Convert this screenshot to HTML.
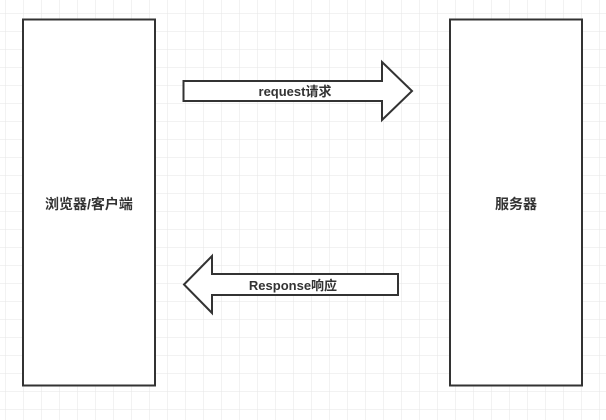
<!DOCTYPE html>
<html><head><meta charset="utf-8">
<style>
html,body{margin:0;padding:0;background:#fff;}
svg{display:block;}
text{font-family:"Liberation Sans","Noto Sans CJK SC",sans-serif;font-weight:bold;fill:#333;}
</style></head>
<body>
<svg width="606" height="420" viewBox="0 0 606 420" xmlns="http://www.w3.org/2000/svg">
<defs>
<pattern id="g" x="5" y="13" width="18" height="18" patternUnits="userSpaceOnUse">
<path d="M0 0H18M0 0V18" fill="none" stroke="#e6e6e6" stroke-width="1"/>
</pattern>
</defs>
<rect width="606" height="420" fill="url(#g)"/>
<rect x="23" y="19.5" width="132" height="366" fill="#fff" stroke="#333" stroke-width="2"/>
<rect x="450" y="19.5" width="132" height="366" fill="#fff" stroke="#333" stroke-width="2"/>
<text x="89" y="209" font-size="14" text-anchor="middle">浏览器/客户端</text>
<text x="516" y="209" font-size="14" text-anchor="middle">服务器</text>
<polygon points="183.5,81 382,81 382,62 412,91 382,120 382,101 183.5,101" fill="#fff" stroke="#333" stroke-width="2"/>
<text x="295" y="96" font-size="13" text-anchor="middle">request请求</text>
<polygon points="398,274 212,274 212,256 184,284.5 212,313 212,295 398,295" fill="#fff" stroke="#333" stroke-width="2"/>
<text x="293" y="290" font-size="13" text-anchor="middle">Response响应</text>
</svg>
</body></html>
